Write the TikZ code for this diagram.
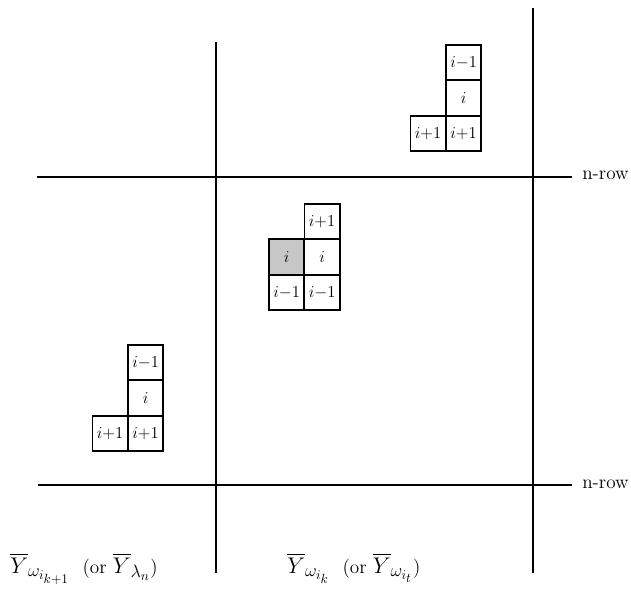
\RequirePackage{fix-cm}
\documentclass[tikz,border=0pt]{standalone}
\usepackage{amsmath}
\DeclareMathSizes{14.4}{17}{13.5}{10}
\begin{document}
\begin{tikzpicture}[x=0.75pt,y=-0.75pt,
  axis/.style={line width=1.5pt},
  cell/.style={draw,line width=1.3pt,minimum width=26.6pt,minimum height=26.6pt,inner sep=0pt,anchor=north west,font=\fontsize{12.5}{14}\selectfont},
  shaded/.style={cell,fill=black!22},
  lbl/.style={inner sep=0pt,font=\fontsize{14.4}{17}\selectfont}]
\useasboundingbox (0,0) rectangle (631,591);
% axes
\coordinate (v1t) at (216,42);  \coordinate (v1b) at (216,573);
\coordinate (v2t) at (533,8);   \coordinate (v2b) at (533,573);
\coordinate (h1l) at (37,177);  \coordinate (h1r) at (572,177);
\coordinate (h2l) at (38,485);  \coordinate (h2r) at (572,485);
\draw[axis] (v1t) -- (v1b);
\draw[axis] (v2t) -- (v2b);
\draw[axis] (h1l) -- (h1r);
\draw[axis] (h2l) -- (h2r);
\node[lbl,anchor=base west] (nr1) at (582,180) {n-row};
\node[lbl,anchor=base west] (nr2) at (582,488) {n-row};
% top-right tableau
\node[cell] (a1) at (445,44) {$i{-}1$};
\node[cell] (a2) at (445,79.5) {$i$};
\node[cell] (a3) at (445,115) {$i{+}1$};
\node[cell] (a4) at (409.5,115) {$i{+}1$};
% middle tableau
\node[cell] (b1) at (303.5,203) {$i{+}1$};
\node[shaded] (b2) at (268,238.5) {$i$};
\node[cell] (b3) at (303.5,238.5) {$i$};
\node[cell] (b4) at (268,274) {$i{-}1$};
\node[cell] (b5) at (303.5,274) {$i{-}1$};
% lower-left tableau
\node[cell] (c1) at (127,344) {$i{-}1$};
\node[cell] (c2) at (127,379.5) {$i$};
\node[cell] (c3) at (127,415) {$i{+}1$};
\node[cell] (c4) at (91.5,415) {$i{+}1$};
% bottom labels
\node[lbl,anchor=base west] (L1) at (10,573) {$\overline{Y}_{\omega_{i_{k+1}}}$\ \ (or $\overline{Y}_{\lambda_n}$)};
\node[lbl,anchor=base west] (L2) at (287,573) {$\overline{Y}_{\omega_{i_k}}$\ \ (or $\overline{Y}_{\omega_{i_t}}$)};
\end{tikzpicture}
\end{document}
